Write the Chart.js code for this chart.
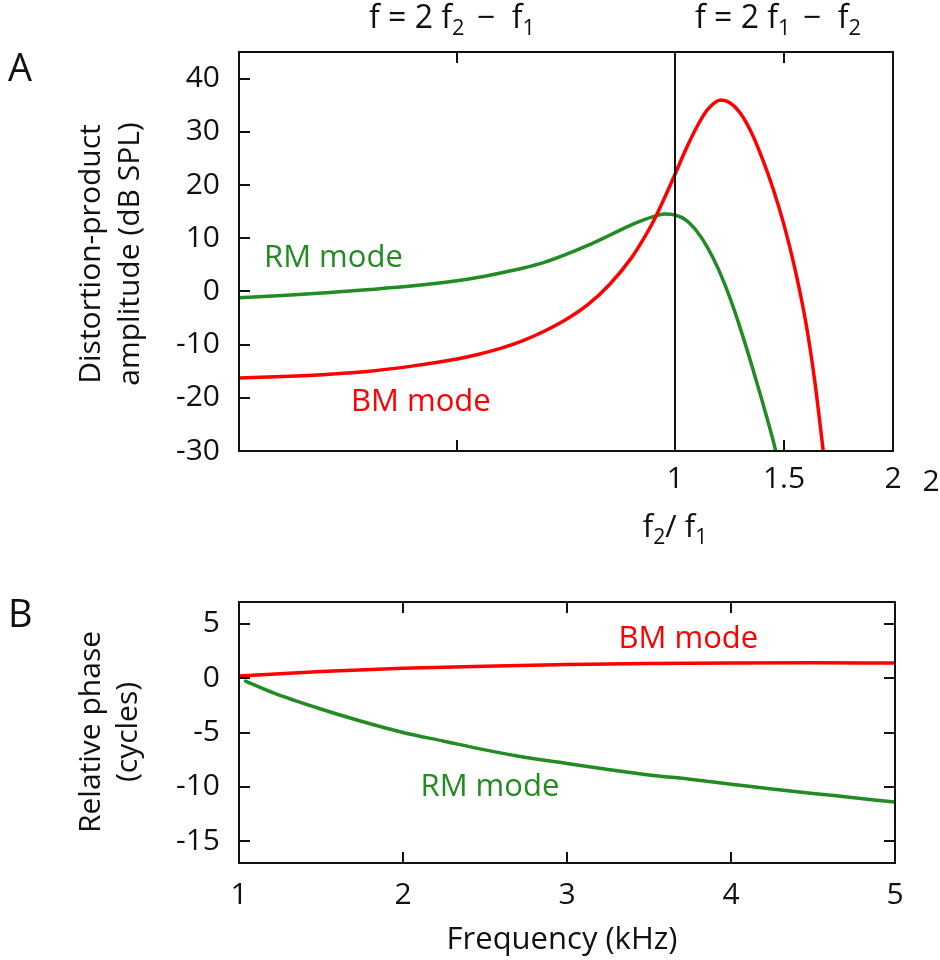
<!DOCTYPE html>
<html><head><meta charset="utf-8">
<script src="https://cdn.jsdelivr.net/npm/chart.js@4.4.1/dist/chart.umd.min.js"></script>
<style>
html,body{margin:0;padding:0;background:#fff;}
#wrap{position:relative;width:940px;height:960px;overflow:hidden;}
canvas{position:absolute;left:0;}
#c1{top:0;} #c2{top:560px;}
</style></head><body>
<div id="wrap"><canvas id="c1" width="940" height="560"></canvas><canvas id="c2" width="940" height="400"></canvas></div>
<script>
// ---------- Panel A data ----------
const ratioBM = [-1, -0.8, -0.6, -0.4, -0.2, 0, 0.1, 0.2, 0.3, 0.4, 0.5, 0.6, 0.7, 0.8, 0.85, 0.9, 0.95, 1.0, 1.05, 1.1, 1.15, 1.21, 1.25, 1.3, 1.35, 1.4, 1.45, 1.5, 1.55, 1.6, 1.64, 1.68];
const ampBM   = [-16.3, -16.0, -15.6, -15.0, -14.0, -12.7, -11.8, -10.7, -9.3, -7.5, -5.3, -2.5, 1.3, 6.3, 9.5, 13.1, 17.4, 22.0, 26.7, 30.9, 34.2, 36.0, 35.5, 33.5, 29.9, 25.0, 19.3, 12.5, 4.3, -5.8, -16.5, -30.0];
const ratioRM = [-1, -0.8, -0.6, -0.4, -0.2, 0, 0.1, 0.2, 0.3, 0.4, 0.5, 0.6, 0.7, 0.8, 0.85, 0.9, 0.95, 1.0, 1.05, 1.1, 1.15, 1.2, 1.25, 1.3, 1.35, 1.4, 1.45, 1.462];
const ampRM   = [-1.2, -0.75, -0.25, 0.35, 1.05, 2.0, 2.65, 3.45, 4.35, 5.45, 6.95, 8.65, 10.55, 12.5, 13.35, 14.05, 14.55, 14.35, 13.4, 11.3, 8.2, 4.1, -1.0, -7.0, -13.6, -20.6, -28.0, -30.0];
const topYTicks = [-30, -20, -10, 0, 10, 20, 30, 40];
const topXTicks = [0, 1, 1.5, 2];
const topXLabels = ['', '1', '1.5', '2'];

// ---------- Panel B data ----------
const freqBM  = [1, 1.5, 2, 2.5, 3, 3.5, 4, 4.5, 5];
const phaseBM = [0.2, 0.6, 0.9, 1.1, 1.25, 1.35, 1.4, 1.42, 1.38];
const freqRM  = [1.04, 1.21, 1.47, 1.73, 2.0, 2.25, 2.5, 2.75, 3.0, 3.25, 3.5, 3.75, 4.0, 4.25, 4.5, 4.75, 5.0];
const phaseRM = [-0.27, -1.35, -2.7, -3.9, -5.0, -5.8, -6.6, -7.3, -7.85, -8.4, -8.9, -9.3, -9.75, -10.2, -10.6, -11.0, -11.4];
const botYTicks = [-15, -10, -5, 0, 5];
const botXTicks = [1, 2, 3, 4, 5];

const RED = '#ff0000', GREEN = '#228b22', INK = '#111';
const FONT = '"Open Sans", "Noto Sans", sans-serif';
Chart.defaults.font.family = FONT;
Chart.defaults.color = INK;

function pts(xs, ys){ return xs.map((x,i)=>({x:x, y:ys[i]})); }

// draw text with subscripts, centred at cx, baseline y
function drawRich(ctx, parts, cx, y, size){
  const sub = size*0.68;
  let w = 0;
  parts.forEach(p=>{ ctx.font = (p.s? sub: size)+'px '+FONT; p.w = ctx.measureText(p.t).width + (p.gap||0); w += p.w; });
  let x = cx - w/2;
  ctx.textAlign='left'; ctx.textBaseline='alphabetic';
  parts.forEach(p=>{ ctx.font = (p.s? sub: size)+'px '+FONT; ctx.fillText(p.t, x, y + (p.s? size*0.22:0)); x += p.w; });
}

function frameTicks(chart, xTickVals, yTickVals, opts){
  const ctx = chart.ctx, a = chart.chartArea, xs = chart.scales.x, ys = chart.scales.y;
  const L = 11;
  ctx.save();
  ctx.strokeStyle = INK; ctx.lineWidth = 2;
  ctx.beginPath();
  xTickVals.forEach(v=>{ const p = Math.round(xs.getPixelForValue(v));
    ctx.moveTo(p, a.bottom); ctx.lineTo(p, a.bottom-L);
    ctx.moveTo(p, a.top); ctx.lineTo(p, a.top+L); });
  yTickVals.forEach(v=>{ const p = Math.round(ys.getPixelForValue(v));
    ctx.moveTo(a.left, p); ctx.lineTo(a.left+L, p);
    if(opts.rightTicks){ ctx.moveTo(a.right, p); ctx.lineTo(a.right-L, p); } });
  ctx.stroke();
  ctx.strokeRect(a.left, a.top, a.right-a.left, a.bottom-a.top);
  ctx.restore();
}

const panelA = {
  id:'panelA',
  afterDatasetsDraw(chart){
    const ctx = chart.ctx, a = chart.chartArea, xs = chart.scales.x;
    const x1 = Math.round(xs.getPixelForValue(1));
    ctx.save(); ctx.strokeStyle = INK; ctx.lineWidth = 2;
    ctx.beginPath(); ctx.moveTo(x1, a.top); ctx.lineTo(x1, a.bottom); ctx.stroke(); ctx.restore();
    frameTicks(chart, [0, 1.5], topYTicks.slice(1), {rightTicks:false});
  },
  afterDraw(chart){
    const ctx = chart.ctx, xs = chart.scales.x, ys = chart.scales.y;
    ctx.save(); ctx.fillStyle = INK;
    ctx.font = '38px '+FONT; ctx.textAlign='left'; ctx.textBaseline='alphabetic';
    ctx.fillText('A', 8, 81);
    // formulas
    drawRich(ctx, [{t:'f = 2 f'},{t:'2',s:1,gap:4},{t:' \u2212  f'},{t:'1',s:1}], 452, 28, 32);
    drawRich(ctx, [{t:'f = 2 f'},{t:'1',s:1,gap:4},{t:' \u2212  f'},{t:'2',s:1}], 778, 28, 32);
    // x-axis title
    drawRich(ctx, [{t:'f'},{t:'2',s:1},{t:'/ f'},{t:'1',s:1}], xs.getPixelForValue(1), 537, 31);
    // stray tick label
    ctx.font = '30px '+FONT; ctx.textAlign='center';
    ctx.fillText('2', 931, 491);
    // y-axis title
    ctx.font = '30px '+FONT;
    ctx.save(); ctx.translate(100, 254); ctx.rotate(-Math.PI/2);
    ctx.textAlign='center'; ctx.fillText('Distortion-product', 0, 0); ctx.fillText('amplitude (dB SPL)', 0, 39);
    ctx.restore();
    // series labels
    ctx.font = '31px '+FONT;
    ctx.textAlign='center';
    ctx.fillStyle = GREEN; ctx.fillText('RM mode', xs.getPixelForValue(-0.567), ys.getPixelForValue(4.5));
    ctx.fillStyle = RED;   ctx.fillText('BM mode', xs.getPixelForValue(-0.166), ys.getPixelForValue(-22.5));
    ctx.restore();
  }
};

const panelB = {
  id:'panelB',
  afterDatasetsDraw(chart){ frameTicks(chart, [2,3,4], botYTicks, {rightTicks:true}); },
  afterDraw(chart){
    const ctx = chart.ctx, xs = chart.scales.x, ys = chart.scales.y;
    ctx.save(); ctx.fillStyle = INK;
    ctx.font = '38px '+FONT; ctx.textAlign='left'; ctx.textBaseline='alphabetic';
    ctx.fillText('B', 8, 67);
    ctx.font = '30px '+FONT;
    ctx.save(); ctx.translate(100, 172); ctx.rotate(-Math.PI/2);
    ctx.textAlign='center'; ctx.fillText('Relative phase', 0, 0); ctx.fillText('(cycles)', 0, 37);
    ctx.restore();
    ctx.textAlign='center';
    ctx.font = '31px '+FONT;
    ctx.fillText('Frequency (kHz)', 562, 389);
    ctx.fillStyle = RED;   ctx.fillText('BM mode', xs.getPixelForValue(3.74), ys.getPixelForValue(2.8));
    ctx.fillStyle = GREEN; ctx.fillText('RM mode', xs.getPixelForValue(2.53), ys.getPixelForValue(-10.8));
    ctx.restore();
  }
};

function lineDS(data, color){
  return {data:data, borderColor:color, borderWidth:3.5, pointRadius:0, showLine:true, fill:false,
          cubicInterpolationMode:'monotone', borderCapStyle:'round', borderJoinStyle:'round'};
}
const tickFont = {size:30, family:FONT};

function build(){
  new Chart(document.getElementById('c1'), {
    type:'scatter',
    data:{datasets:[ lineDS(pts(ratioBM, ampBM), RED), lineDS(pts(ratioRM, ampRM), GREEN) ]},
    options:{
      responsive:false, animation:false, devicePixelRatio:1,
      layout:{padding:{top:52, right:47, left:0, bottom:0}},
      plugins:{legend:{display:false}, tooltip:{enabled:false}},
      scales:{
        x:{type:'linear', min:-1, max:2, grid:{display:false, drawTicks:false}, border:{display:false},
           afterBuildTicks:s=>{ s.ticks = topXTicks.map(v=>({value:v})); },
           afterFit:s=>{ s.height = 109; },
           ticks:{font:tickFont, color:INK, padding:10, maxRotation:0, autoSkip:false,
                  callback:(v)=>{ const i = topXTicks.indexOf(v); return i<0? '' : topXLabels[i]; }}},
        y:{type:'linear', min:-30, max:45, grid:{display:false, drawTicks:false}, border:{display:false},
           afterBuildTicks:s=>{ s.ticks = topYTicks.map(v=>({value:v})); },
           afterFit:s=>{ s.width = 239; },
           ticks:{font:tickFont, color:INK, padding:19}}
      }
    },
    plugins:[panelA]
  });
  new Chart(document.getElementById('c2'), {
    type:'scatter',
    data:{datasets:[ lineDS(pts(freqBM, phaseBM), RED), lineDS(pts(freqRM, phaseRM), GREEN) ]},
    options:{
      responsive:false, animation:false, devicePixelRatio:1,
      layout:{padding:{top:42, right:45, left:0, bottom:0}},
      plugins:{legend:{display:false}, tooltip:{enabled:false}},
      scales:{
        x:{type:'linear', min:1, max:5, grid:{display:false, drawTicks:false}, border:{display:false},
           afterBuildTicks:s=>{ s.ticks = botXTicks.map(v=>({value:v})); },
           afterFit:s=>{ s.height = 97; },
           ticks:{font:tickFont, color:INK, padding:14, maxRotation:0, autoSkip:false}},
        y:{type:'linear', min:-17, max:7, grid:{display:false, drawTicks:false}, border:{display:false},
           afterBuildTicks:s=>{ s.ticks = botYTicks.map(v=>({value:v})); },
           afterFit:s=>{ s.width = 239; },
           ticks:{font:tickFont, color:INK, padding:19}}
      }
    },
    plugins:[panelB]
  });
}
if (document.fonts && document.fonts.load) {
  Promise.all([document.fonts.load('30px "Open Sans"'), document.fonts.load('20px "Open Sans"')]).then(build, build);
} else build();
</script>
</body></html>
